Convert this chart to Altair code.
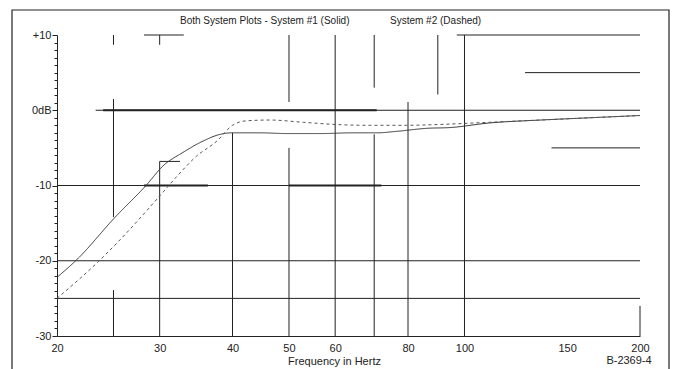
import altair as alt
import pandas as pd

# ---- curve data (frequency in Hz, level in dB) ----
solid_f = [20, 21.6, 25.1, 28.5, 30.4, 32.9, 35.6, 38.1, 40, 44.6, 49.6, 56.5, 64.4, 70.7, 76.6, 86.2, 94.5, 110, 135, 164, 200]
solid_db = [-22.2, -19.9, -14.3, -9.9, -7.4, -5.6, -4.1, -3.2, -3.0, -3.0, -3.1, -3.1, -3.0, -3.0, -2.8, -2.4, -2.3, -1.7, -1.3, -1.0, -0.7]

dashed_f = [20, 23.7, 25.3, 30, 32.1, 34.7, 37.6, 40, 42.3, 46.4, 52.9, 60.4, 68.9, 79.6, 89.8, 110, 135, 164, 200]
dashed_db = [-25.0, -19.9, -17.7, -11.4, -8.8, -6.1, -4.1, -2.0, -1.4, -1.3, -1.6, -1.9, -2.0, -2.0, -1.9, -1.6, -1.3, -1.0, -0.7]

# ---- axis ticks ----
x_ticks = [20, 30, 40, 50, 60, 80, 100, 150, 200]
y_ticks = list(range(-30, 11))

# ---- grid segments as drawn on the chart ----
h_db = [10, 10, 5, 0, -5, -10, -6.8, -20, -25]
h_f1 = [28.2, 97, 127, 23.3, 141, 20, 30, 20, 20]
h_f2 = [33, 200, 200, 200, 200, 200, 32.5, 200, 200]

thick_db = [0, -10, -10]
thick_f1 = [24, 28.2, 50]
thick_f2 = [70.7, 36.3, 72]

v_f = [25, 25, 25, 30, 30, 40, 50, 50, 60, 70, 70, 80, 90, 100, 200]
v_top = [10, 1.5, -23.9, 10, -6.8, -3, 10, -5, 10, 10, -3.2, 1.1, 10, 10, -26]
v_bot = [8.7, -14.2, -30, 8.7, -30, -30, 1.1, -30, -30, 3, -30, -30, 2.1, -30, -30]

title_left = "Both System Plots - System #1 (Solid)"
title_right = "System #2 (Dashed)"
x_title = "Frequency in Hertz"
code_label = "B-2369-4"

FONT = "Liberation Sans"
INK = "#222222"

curves = pd.concat([
    pd.DataFrame({"f": solid_f, "db": solid_db, "sys": "System #1"}),
    pd.DataFrame({"f": dashed_f, "db": dashed_db, "sys": "System #2"}),
])
hseg = pd.DataFrame({"db": h_db, "f1": h_f1, "f2": h_f2})
thick = pd.DataFrame({"db": thick_db, "f1": thick_f1, "f2": thick_f2})
vseg = pd.DataFrame({"f": v_f, "top": v_top, "bot": v_bot})
one = pd.DataFrame({"a": [0]})

xsc = alt.Scale(type="log", domain=[20, 200], nice=False)
ysc = alt.Scale(domain=[-30, 10], nice=False, zero=False)

xax = alt.Axis(
    values=x_ticks, format="d", grid=False, tickSize=0, labelPadding=6,
    labelFontSize=11, labelColor=INK, domainColor=INK, labelFlush=False,
    title=x_title, titleFontSize=11, titleFontWeight="normal", titleColor=INK,
    titleX=277, titleY=25, titleBaseline="middle", titleAnchor="middle",
)
yax = alt.Axis(
    values=y_ticks, grid=False, labelOverlap=False,
    labelExpr="datum.value == 10 ? '+10' : (datum.value == 0 ? '0dB' : (datum.value % 10 == 0 ? '' + datum.value : ''))",
    tickSize={"condition": {"test": "datum.value % 10 === 0", "value": 5}, "value": 3},
    labelPadding=1, labelFontSize=11, labelColor=INK, tickColor=INK, domainColor=INK,
    title=None,
)

hrules = alt.Chart(hseg).mark_rule(color=INK, strokeWidth=1).encode(
    x=alt.X("f1:Q", scale=xsc, axis=xax), x2="f2:Q",
    y=alt.Y("db:Q", scale=ysc, axis=yax),
)
thick_rules = alt.Chart(thick).mark_rule(color=INK, strokeWidth=2).encode(
    x=alt.X("f1:Q", scale=xsc, axis=xax), x2="f2:Q",
    y=alt.Y("db:Q", scale=ysc, axis=yax),
)
vrules = alt.Chart(vseg).mark_rule(color=INK, strokeWidth=1).encode(
    x=alt.X("f:Q", scale=xsc, axis=xax),
    y=alt.Y("top:Q", scale=ysc, axis=yax), y2="bot:Q",
)
lines = alt.Chart(curves).mark_line(strokeWidth=1, interpolate="monotone").encode(
    x=alt.X("f:Q", scale=xsc, axis=xax),
    y=alt.Y("db:Q", scale=ysc, axis=yax),
    detail="sys:N",
    color=alt.Color("sys:N", scale=alt.Scale(domain=["System #1", "System #2"], range=["#333333", "#555555"]), legend=None),
    strokeDash=alt.StrokeDash("sys:N", scale=alt.Scale(domain=["System #1", "System #2"], range=[[1, 0], [3, 3]]), legend=None),
)

frame = alt.Chart(one).mark_rect(filled=False, stroke=INK, strokeWidth=1.2).encode(
    x=alt.value(-45), x2=alt.value(612), y=alt.value(-25), y2=alt.value(345),
)
t1 = alt.Chart(one).mark_text(text=title_left, font=FONT, fontSize=10, align="left", baseline="alphabetic", color=INK).encode(
    x=alt.value(123), y=alt.value(-11))
t2 = alt.Chart(one).mark_text(text=title_right, font=FONT, fontSize=10, align="left", baseline="alphabetic", color=INK).encode(
    x=alt.value(333), y=alt.value(-11))
t3 = alt.Chart(one).mark_text(text=code_label, font=FONT, fontSize=11, align="center", baseline="top", color=INK).encode(
    x=alt.value(572), y=alt.value(320))

chart = alt.layer(frame, hrules, thick_rules, vrules, lines, t1, t2, t3).properties(
    width=583, height=301,
    padding={"left": 57, "top": 35, "right": 35, "bottom": 33},
    autosize=alt.AutoSizeParams(type="none"),
    background="white",
).configure(font=FONT).configure_view(stroke=None)

chart.save("out.html", embed_options={"renderer": "svg", "actions": False})
